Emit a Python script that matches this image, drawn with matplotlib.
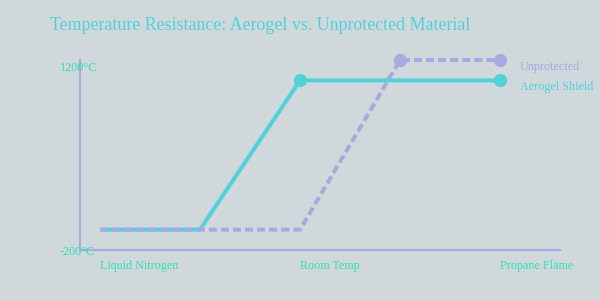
import matplotlib
matplotlib.use("Agg")
import matplotlib.pyplot as plt

# data
categories = ["Liquid Nitrogen", "Room Temp", "Propane Flame"]
cat_pos = [0, 2, 4]
steps = [0, 1, 2, 3, 4]
aerogel = [-50, -50, 1050, 1050, 1050]
unprotected = [-50, -50, -50, 1200, 1200]
y_ticks = [-200, 1200]
y_labels = ["-200°C", "1200°C"]

bg = "#d0d8db"
cyan = "#4fd2d9"
lav = "#a5abe0"
tick_col = "#2fe0b4"

plt.rcParams["font.family"] = ["Liberation Serif", "DejaVu Serif"]

fig = plt.figure(figsize=(6, 3), dpi=100, facecolor=bg)
ax = fig.add_axes([80/600, 1-250/300, 480/600, 190/300])
ax.set_facecolor(bg)

ax.plot(steps, aerogel, color=cyan, lw=2.9, marker="o", ms=8.5,
        markevery=[2, 4], solid_capstyle="butt", clip_on=False, zorder=3)
ax.plot(steps, unprotected, color=lav, lw=2.9, ls=(0, (2, 1)), marker="o", ms=8.5,
        markevery=[3, 4], dash_capstyle="butt", clip_on=False, zorder=4)

ax.set_xlim(-0.2, 4.6)
ax.set_ylim(-200, 1200)

for s in ["top", "right"]:
    ax.spines[s].set_visible(False)
for s in ["left", "bottom"]:
    ax.spines[s].set_color(lav)
    ax.spines[s].set_linewidth(1.5)

ax.set_xticks([])
ax.set_yticks([])

for p, c in zip(cat_pos, categories):
    ax.annotate(c, xy=(p, 0), xycoords=("data", "axes fraction"),
                xytext=(0, -16), textcoords="offset pixels",
                ha="left", va="center", color=tick_col, fontsize=8.7)

ax.annotate(y_labels[1], xy=(0, 1), xycoords="axes fraction",
            xytext=(-20, -8), textcoords="offset pixels",
            ha="left", va="center", color=tick_col, fontsize=8.7)
ax.annotate(y_labels[0], xy=(0, 0), xycoords="axes fraction",
            xytext=(-20, -2), textcoords="offset pixels",
            ha="left", va="center", color=tick_col, fontsize=8.7)

# legend labels
fig.text(520/600, 1-67/300, "Unprotected", color=lav, fontsize=8.7, ha="left", va="center")
fig.text(520/600, 1-87/300, "Aerogel Shield", color=cyan, fontsize=8.7, ha="left", va="center")

fig.text(50/600, 1-25/300, "Temperature Resistance: Aerogel vs. Unprotected Material",
         color=cyan, fontsize=12.9, ha="left", va="center")

fig.savefig("out.png", dpi=100, facecolor=bg)
